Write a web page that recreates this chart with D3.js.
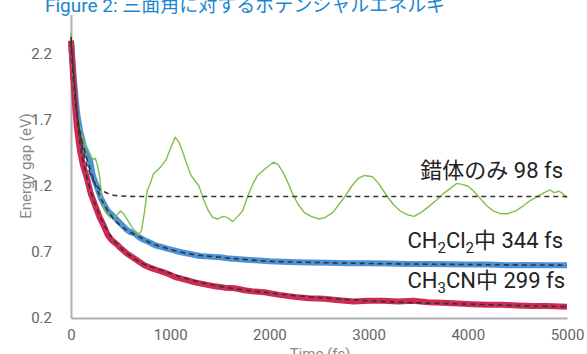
<!DOCTYPE html>
<html>
<head>
<meta charset="utf-8">
<script src="https://cdn.jsdelivr.net/npm/d3@7"></script>
<style>
  body { margin: 0; background: #fff; }
  svg { display: block; font-family: Roboto, "Noto Sans CJK JP", sans-serif; }
</style>
</head>
<body>
<div id="chart"></div>
<script>
// values: [time (fs), energy gap (eV)]
var complexOnly = [[0,2.36],[15,2.1],[30,1.95],[50,1.82],[70,1.72],[100,1.60],[130,1.53],[160,1.49],[190,1.44],[220,1.40],[245,1.41],[265,1.36],[290,1.27],[310,1.12],[325,1.04],[360,0.99],[400,0.96],[450,0.97],[500,1.01],[540,0.98],[580,0.93],[630,0.87],[680,0.83],[710,0.86],[740,1.0],[770,1.17],[800,1.22],[830,1.29],[870,1.32],[910,1.35],[960,1.40],[1000,1.48],[1050,1.57],[1090,1.53],[1130,1.45],[1170,1.36],[1210,1.28],[1250,1.24],[1290,1.20],[1330,1.11],[1380,1.02],[1430,0.96],[1480,0.95],[1530,0.97],[1580,0.96],[1630,0.93],[1680,0.97],[1730,1.01],[1780,1.12],[1830,1.21],[1880,1.28],[1940,1.32],[1990,1.35],[2040,1.38],[2090,1.36],[2140,1.30],[2190,1.22],[2240,1.13],[2290,1.06],[2350,1.00],[2420,0.97],[2500,0.95],[2560,0.96],[2640,1.0],[2700,1.06],[2760,1.12],[2830,1.2],[2900,1.26],[2960,1.28],[3040,1.27],[3100,1.22],[3180,1.13],[3250,1.06],[3320,1.01],[3400,0.98],[3460,0.97],[3530,1.0],[3600,1.04],[3680,1.09],[3750,1.14],[3820,1.18],[3890,1.22],[3950,1.21],[4000,1.20],[4060,1.16],[4120,1.11],[4190,1.05],[4260,1.01],[4330,0.99],[4400,0.99],[4480,1.01],[4560,1.05],[4630,1.09],[4700,1.12],[4770,1.15],[4830,1.17],[4870,1.15],[4920,1.16],[4960,1.14],[5000,1.11]];

var inCH2Cl2 = [[0,2.3],[30,2.0],[60,1.76],[90,1.62],[130,1.50],[160,1.45],[190,1.40],[220,1.28],[260,1.20],[300,1.11],[340,1.05],[370,1.01],[400,0.99],[440,0.96],[480,0.93],[520,0.90],[560,0.87],[600,0.85],[640,0.84],[690,0.81],[740,0.79],[800,0.77],[850,0.75],[900,0.74],[950,0.73],[1000,0.72],[1100,0.70],[1200,0.685],[1300,0.67],[1400,0.665],[1500,0.66],[1600,0.65],[1700,0.645],[1800,0.64],[1900,0.635],[2000,0.63],[2200,0.625],[2400,0.62],[2600,0.618],[2800,0.615],[3000,0.615],[3200,0.612],[3400,0.61],[3600,0.61],[3800,0.608],[4000,0.605],[4200,0.605],[4400,0.60],[4600,0.602],[4800,0.60],[5000,0.60]];

var inCH3CN = [[0,2.3],[20,2.05],[40,1.82],[60,1.64],[90,1.47],[120,1.36],[160,1.26],[200,1.14],[250,1.04],[290,0.96],[330,0.90],[370,0.83],[410,0.79],[460,0.76],[500,0.73],[560,0.69],[620,0.66],[680,0.63],[740,0.60],[800,0.58],[880,0.56],[960,0.54],[1050,0.51],[1150,0.49],[1250,0.47],[1350,0.455],[1450,0.44],[1550,0.43],[1650,0.425],[1750,0.41],[1850,0.40],[1950,0.395],[2100,0.375],[2250,0.36],[2400,0.35],[2550,0.345],[2700,0.335],[2850,0.325],[3000,0.33],[3150,0.33],[3300,0.325],[3450,0.33],[3600,0.32],[3750,0.315],[3900,0.31],[4050,0.305],[4200,0.30],[4350,0.30],[4500,0.295],[4650,0.29],[4800,0.29],[5000,0.285]];

// dashed fitted curves, also
var fitComplex = [[0,2.33],[25,2.05],[50,1.84],[75,1.67],[100,1.55],[130,1.44],[160,1.36],[200,1.28],[250,1.21],[300,1.17],[350,1.15],[400,1.135],[500,1.125],[700,1.12],[5000,1.12]];
var fitCH2Cl2 = [[0,2.3],[25,2.02],[50,1.82],[75,1.68],[100,1.58],[150,1.43],[200,1.31],[250,1.20],[300,1.11],[400,0.98],[500,0.90],[600,0.85],[700,0.81],[800,0.77],[1000,0.72],[1200,0.685],[1500,0.66],[2000,0.63],[2500,0.62],[3000,0.613],[4000,0.605],[5000,0.60]];
var fitCH3CN = [[0,2.3],[25,2.02],[50,1.8],[75,1.62],[100,1.48],[150,1.3],[200,1.16],[250,1.05],[300,0.96],[400,0.82],[500,0.73],[600,0.67],[700,0.62],[800,0.59],[1000,0.54],[1200,0.49],[1500,0.44],[2000,0.39],[2500,0.355],[3000,0.33],[4000,0.305],[5000,0.285]];

var xTicks = [0, 1000, 2000, 3000, 4000, 5000];
var yTicks = [0.2, 0.7, 1.2, 1.7, 2.2];

var svgWidth = 587;
var svgHeight = 354;

var svg = d3.select('#chart')
            .append('svg')
            .attr('width', svgWidth)
            .attr('height', svgHeight);

var xScale = d3.scaleLinear().domain([0, 5000]).range([71, 567]);
var yScale = d3.scaleLinear().domain([0.2, 2.5]).range([318, 14.4]);

// title (cut off at the top in the original)
svg.append('text')
    .attr('x', 45)
    .attr('y', 12)
    .attr('fill', '#1a86d0')
    .style('font-size', '19px')
    .text('Figure 2: 三面角に対するポテンシャルエネルギ');

// Axes
var xAxis = svg.append('g')
    .attr('transform', 'translate(0,318)')
    .call(d3.axisBottom(xScale).tickValues(xTicks).tickSize(0).tickPadding(11).tickFormat(d3.format('d')));

var yAxis = svg.append('g')
    .attr('transform', 'translate(71,0)')
    .call(d3.axisLeft(yScale).tickValues(yTicks).tickSize(0).tickPadding(19).tickFormat(d3.format('.1f')));

[xAxis, yAxis].forEach((g) => {
    g.select('.domain').attr('stroke', '#b0b0b0').attr('stroke-width', 2);
    g.selectAll('text').attr('fill', '#666').style('font-size', '15px').style('font-family', 'Roboto, sans-serif');
});

var line = d3.line()
    .x(d => xScale(d[0]))
    .y(d => yScale(d[1]));

// Noisy bands
svg.append('path')
    .datum(inCH2Cl2)
    .attr('d', line)
    .attr('fill', 'none')
    .attr('stroke', '#4b93d6')
    .attr('stroke-width', 6)
    .attr('stroke-linejoin', 'round');

svg.append('path')
    .datum(inCH3CN)
    .attr('d', line)
    .attr('fill', 'none')
    .attr('stroke', '#cf2a55')
    .attr('stroke-width', 6)
    .attr('stroke-linejoin', 'round');

// complex only
svg.append('path')
    .datum(complexOnly)
    .attr('d', line)
    .attr('fill', 'none')
    .attr('stroke', '#7ec04c')
    .attr('stroke-width', 1.4)
    .attr('stroke-linejoin', 'round');

// Fits
var smooth = d3.line()
    .x(d => xScale(d[0]))
    .y(d => yScale(d[1]))
    .curve(d3.curveMonotoneX);

[fitComplex, fitCH2Cl2, fitCH3CN].forEach((fit) => {
    svg.append('path')
        .datum(fit)
        .attr('d', smooth)
        .attr('fill', 'none')
        .attr('stroke', '#333')
        .attr('stroke-width', 1.6)
        .attr('stroke-dasharray', '5,4');
});

// Labels on the right
var labels = svg.append('g')
    .style('font-size', '22px')
    .attr('fill', '#222')
    .attr('text-anchor', 'end');

labels.append('text')
    .attr('x', 563)
    .attr('y', 178)
    .text('錯体のみ 98 fs');

var l2 = labels.append('text').attr('x', 563).attr('y', 248);
l2.append('tspan').text('CH');
l2.append('tspan').attr('dy', 5).style('font-size', '15px').text('2');
l2.append('tspan').attr('dy', -5).text('Cl');
l2.append('tspan').attr('dy', 5).style('font-size', '15px').text('2');
l2.append('tspan').attr('dy', -5).text('中 344 fs');

var l3 = labels.append('text').attr('x', 565).attr('y', 288);
l3.append('tspan').text('CH');
l3.append('tspan').attr('dy', 5).style('font-size', '15px').text('3');
l3.append('tspan').attr('dy', -5).text('CN中 299 fs');

// Axis titles
svg.append('text')
    .attr('transform', 'rotate(-90)')
    .attr('x', -166)
    .attr('y', 31)
    .attr('fill', '#888')
    .style('font-size', '15px')
    .style('text-anchor', 'middle')
    .text('Energy gap (eV)');

svg.append('text')
    .attr('x', 320)
    .attr('y', 359)
    .attr('fill', '#888')
    .style('font-size', '15px')
    .style('text-anchor', 'middle')
    .text('Time (fs)');
</script>
</body>
</html>
